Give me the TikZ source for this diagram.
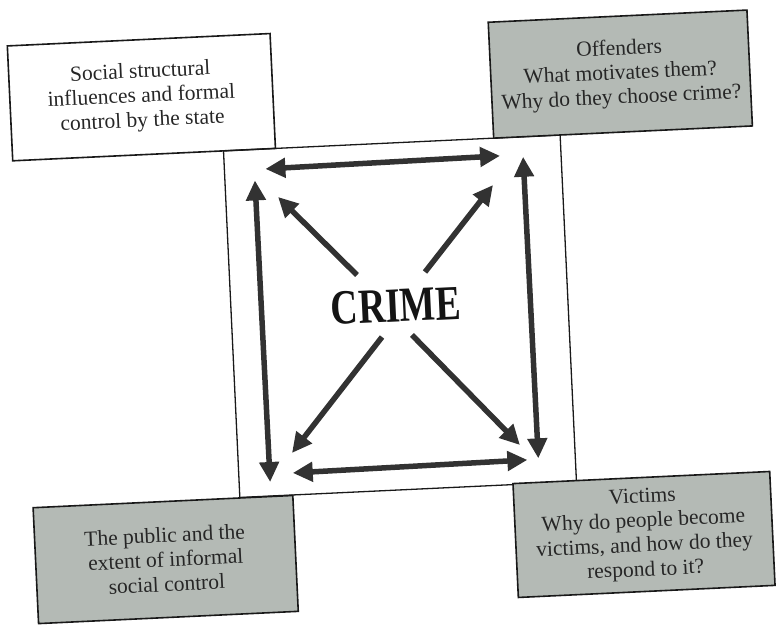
\documentclass[tikz,border=0pt]{standalone}
\usepackage{fontspec}
\setmainfont{Liberation Serif}
\usetikzlibrary{arrows.meta}
\definecolor{boxgray}{RGB}{180,186,181}
\definecolor{inkgray}{RGB}{38,38,38}
\definecolor{arrowgray}{RGB}{50,50,50}
\begin{document}
\begin{tikzpicture}[x=1pt,y=-1pt,
  infobox/.style={draw=black!90, line width=1.6pt, align=center, text=inkgray,
    font=\fontsize{21.5}{24.5}\selectfont, inner sep=0pt},
  graybox/.style={infobox, fill=boxgray},
  tipshape/.tip={Triangle[length=20pt,width=19pt]},
  linkarrow/.style={draw=arrowgray, line width=5.5pt, -tipshape},
  botharrow/.style={draw=arrowgray, line width=5.5pt, tipshape-tipshape}]
\useasboundingbox (0,0) rectangle (776,625);
\begin{scope}[shift={(399.5,316.75)}, rotate=2.7, transform shape]
  % central frame
  \node[draw=black!90, line width=1.3pt, minimum width=337pt, minimum height=347pt, inner sep=0pt]
    (frame) at (0.5,-0.5) {};
  % corner boxes
  \node[infobox, minimum width=263pt, minimum height=115pt] (social) at (-247.5,-231.5)
    {Social structural\\influences and formal\\control by the state};
  \node[graybox, minimum width=259pt, minimum height=116pt] (offenders) at (232,-232)
    {Offenders\\What motivates them?\\Why do they choose crime?};
  \node[graybox, minimum width=260pt, minimum height=116pt] (public) at (-245,231.5)
    {The public and the\\extent of informal\\social control};
  \node[graybox, minimum width=257pt, minimum height=114pt] (victims) at (234,229)
    {Victims\\Why do people become\\victims, and how do they\\respond to it?};
  % centre label
  \node[text=black!92, font=\fontsize{49}{49}\selectfont\bfseries, inner sep=0pt] (crime) at (-3,-11)
    {\scalebox{0.77}[1]{CRIME}};
  % arrow end points
  \coordinate (tl) at (-127,-154);
  \coordinate (tr) at (108,-156);
  \coordinate (bl) at (-114,151);
  \coordinate (br) at (121,149);
  \coordinate (lt) at (-138,-143);
  \coordinate (lb) at (-137,159);
  \coordinate (rt) at (131,-154);
  \coordinate (rb) at (132,148);
  \coordinate (ulA) at (-40.5,-43.7);
  \coordinate (ulB) at (-115.7,-125.4);
  \coordinate (urA) at (27.6,-43.5);
  \coordinate (urB) at (99.6,-127.2);
  \coordinate (llA) at (-18.4,19.4);
  \coordinate (llB) at (-113.8,131);
  \coordinate (lrA) at (11.6,18.8);
  \coordinate (lrB) at (114.3,133.8);
  % arrows
  \draw[botharrow] (tl) -- (tr);
  \draw[botharrow] (bl) -- (br);
  \draw[botharrow] (lt) -- (lb);
  \draw[botharrow] (rt) -- (rb);
  \draw[linkarrow] (ulA) -- (ulB);
  \draw[linkarrow] (urA) -- (urB);
  \draw[linkarrow] (llA) -- (llB);
  \draw[linkarrow] (lrA) -- (lrB);
\end{scope}
\end{tikzpicture}
\end{document}
